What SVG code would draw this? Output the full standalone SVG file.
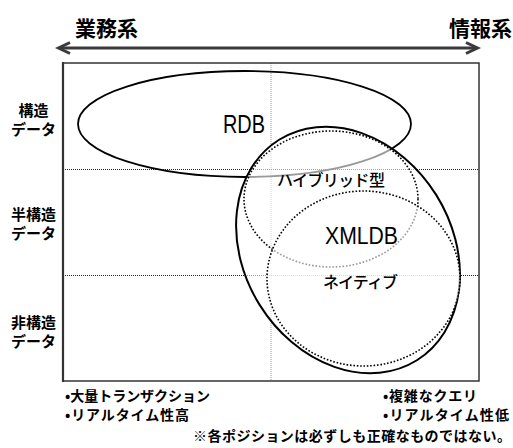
<svg xmlns="http://www.w3.org/2000/svg" width="513" height="448" viewBox="0 0 513 448">
<style>
.jp{font-family:"Noto Sans CJK JP","Noto Sans CJK SC",sans-serif;fill:#000}
.b{font-weight:bold}
.m{font-weight:500}
.lat{font-family:"Liberation Sans",Arial,sans-serif;fill:#000}
.gridv{stroke:#999;stroke-width:1;stroke-dasharray:1 1;fill:none}
.gridh{stroke:#222;stroke-width:1;stroke-dasharray:1 1;fill:none}
.dot{fill:none;stroke:#000;stroke-width:1.6;stroke-dasharray:1.6 1.8}
</style>
<rect x="0" y="0" width="513" height="448" fill="#fff"/>
<g id="axis">
  <line x1="59" y1="48" x2="477" y2="48" stroke="#3a3a3a" stroke-width="3"/>
  <path d="M70,42.5 L58.5,48 L70,53.5" fill="none" stroke="#3a3a3a" stroke-width="3"/>
  <path d="M466,42.5 L477.5,48 L466,53.5" fill="none" stroke="#3a3a3a" stroke-width="3"/>
  <text class="jp b" x="75" y="36" font-size="21">業務系</text>
  <text class="jp b" x="449" y="36" font-size="21">情報系</text>
</g>
<g id="grid">
  <line class="gridv" x1="271" y1="63" x2="271" y2="381"/>
  <line class="gridh" x1="63" y1="169.5" x2="479" y2="169.5"/>
  <line class="gridh" x1="63" y1="275.5" x2="479" y2="275.5"/>
</g>
<g id="frame">
  <rect x="63" y="63" width="416" height="318" fill="none" stroke="#333" stroke-width="1.5"/>
  <line x1="63" y1="62" x2="63" y2="382" stroke="#333" stroke-width="2.2"/>
</g>
<g id="rdb">
  <ellipse cx="244.5" cy="124" rx="166.5" ry="53" fill="none" stroke="#000" stroke-width="1.8"/>
</g>
<g id="xmldb">
  <ellipse cx="348" cy="250" rx="104" ry="130" transform="rotate(-32 348 250)" fill="#fff" fill-opacity="0.6" stroke="#000" stroke-width="2"/>
</g>
<g id="hybrid">
  <ellipse class="dot" cx="331" cy="199" rx="87" ry="68"/>
</g>
<g id="native">
  <ellipse class="dot" cx="363.5" cy="278.5" rx="96.5" ry="87.5" style="fill:#fff;fill-opacity:0.6"/>
</g>
<g id="labels">
  <text class="lat" x="223" y="133" font-size="25" textLength="42" lengthAdjust="spacingAndGlyphs">RDB</text>
  <text class="jp m" x="277" y="186" font-size="16" textLength="108">ハイブリッド型</text>
  <text class="lat" x="325" y="244" font-size="24" textLength="73" lengthAdjust="spacingAndGlyphs">XMLDB</text>
  <text class="jp m" x="323" y="288" font-size="16" textLength="75">ネイティブ</text>
</g>
<g id="rows" class="jp b" font-size="15" text-anchor="middle">
  <text x="33.5" y="116">構造</text>
  <text x="33.5" y="135">データ</text>
  <text x="33.5" y="220">半構造</text>
  <text x="33.5" y="239">データ</text>
  <text x="33.5" y="328">非構造</text>
  <text x="33.5" y="347">データ</text>
</g>
<g id="notes" class="jp b" font-size="14">
  <text x="65" y="401" textLength="145">•大量トランザクション</text>
  <text x="65" y="420" textLength="124">•リアルタイム性高</text>
  <text x="383" y="401" textLength="94">•複雑なクエリ</text>
  <text x="383" y="420" textLength="126">•リアルタイム性低</text>
  <text x="193" y="441" textLength="318">※各ポジションは必ずしも正確なものではない。</text>
</g>
</svg>
